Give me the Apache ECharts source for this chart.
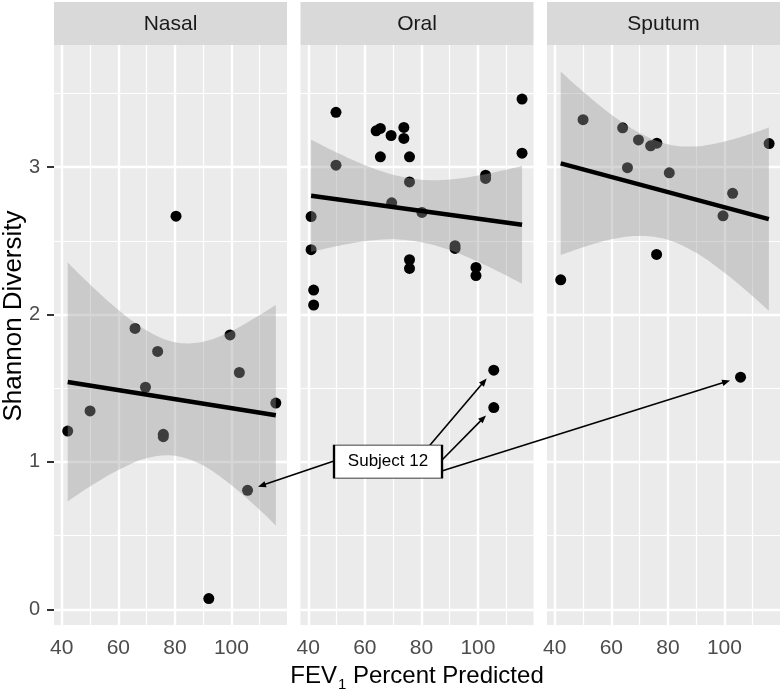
<!DOCTYPE html>
<html><head><meta charset="utf-8">
<script src="https://cdn.jsdelivr.net/npm/echarts@6/dist/echarts.min.js"></script>
<style>html,body{margin:0;padding:0;background:#fff}#c{width:781px;height:690px}</style>
</head><body><div id="c"></div><script>
// ---------------- data ----------------
const panels = ['Nasal', 'Oral', 'Sputum'];

const nasalPoints = [[42.1,1.21],[50.0,1.346],[65.9,1.906],[69.6,1.507],[73.9,1.75],[75.9,1.188],[75.9,1.172],
  [80.4,2.668],[92.0,0.073],[99.5,1.862],[102.8,1.607],[105.7,0.808],[115.7,1.40]];
const oralPoints = [[41.0,2.665],[41.0,2.44],[41.9,2.166],[41.9,2.065],[49.8,3.372],[49.8,3.014],[64.0,3.247],
  [65.5,3.263],[65.5,3.07],[69.3,3.215],[69.5,2.758],[73.8,3.27],[73.8,3.195],[75.8,3.07],[75.8,2.9],
  [75.8,2.372],[75.8,2.313],[80.2,2.693],[91.9,2.467],[91.9,2.449],[99.3,2.32],[99.3,2.265],[102.7,2.946],
  [102.7,2.924],[105.6,1.623],[105.6,1.369],[115.6,3.462],[115.6,3.095]];
const sputumPoints = [[42.1,2.236],[50.0,3.322],[64.0,3.267],[65.7,2.997],[69.6,3.185],[73.9,3.145],[76.1,3.163],
  [76.0,2.408],[80.5,2.962],[99.5,2.67],[102.9,2.823],[105.7,1.575],[115.8,3.16]];

const nasalFit = [[42.1,1.543],[115.7,1.317]];
const oralFit = [[41.0,2.806],[115.6,2.610]];
const sputumFit = [[42.1,3.026],[115.7,2.648]];

const nasalBandX = [42.1, 50, 60, 70, 80, 90, 100, 110, 115.7];
const nasalBandLow = [0.733, 0.834, 0.946, 1.026, 1.042, 0.976, 0.842, 0.675, 0.568];
const nasalBandHigh = [2.353, 2.204, 2.032, 1.892, 1.812, 1.816, 1.888, 1.997, 2.066];
const oralBandX = [41.0, 50, 60, 70, 80, 90, 100, 110, 115.6];
const oralBandLow = [2.425, 2.464, 2.498, 2.511, 2.491, 2.438, 2.359, 2.265, 2.209];
const oralBandHigh = [3.187, 3.100, 3.014, 2.949, 2.915, 2.916, 2.943, 2.983, 3.009];
const sputumBandX = [42.1, 50, 60, 70, 80, 90, 100, 110, 115.7];
const sputumBandLow = [2.404, 2.457, 2.511, 2.534, 2.507, 2.419, 2.284, 2.124, 2.026];
const sputumBandHigh = [3.648, 3.513, 3.357, 3.232, 3.155, 3.141, 3.174, 3.230, 3.270];

const xTicks = [40, 60, 80, 100];
const xMinor = [50, 70, 90, 110];
const yTicks = [0, 1, 2, 3];
const yMinor = [0.5, 1.5, 2.5, 3.5];

const annotationText = 'Subject 12';
const annotationPos = [68.2, 1.003];           // in Oral panel coordinates
const arrowStarts = [[49.1,1.007],[83.0,1.113],[87.2,1.012],[87.2,0.939]]; // Oral panel coordinates
const arrowTargets = [[0, 11], [1, 24], [1, 25], [2, 11]];             // [panel, point index]

// ---------------- layout ----------------
const FONT = "'Liberation Sans', Arial, Helvetica, sans-serif";
const gridLefts = [54, 300.5, 547];
const gridTop = 45, gridW = 233, gridH = 580;
const X_MIN = 37.25, X_MAX = 119.65, Y_MIN = -0.106, Y_MAX = 3.829;

const pointsByPanel = [nasalPoints, oralPoints, sputumPoints];
const fitByPanel = [nasalFit, oralFit, sputumFit];
const bandByPanel = [
  {x: nasalBandX, lo: nasalBandLow, hi: nasalBandHigh},
  {x: oralBandX, lo: oralBandLow, hi: oralBandHigh},
  {x: sputumBandX, lo: sputumBandLow, hi: sputumBandHigh}
];

function gridLines() {
  const d = [];
  xTicks.forEach(v => d.push({xAxis: v, lineStyle: {color: '#ffffff', width: 2.4, type: 'solid', opacity: 1}}));
  xMinor.forEach(v => d.push({xAxis: v, lineStyle: {color: '#ffffff', width: 1.2, type: 'solid', opacity: 1}}));
  yTicks.forEach(v => d.push({yAxis: v, lineStyle: {color: '#ffffff', width: 2.4, type: 'solid', opacity: 1}}));
  yMinor.forEach(v => d.push({yAxis: v, lineStyle: {color: '#ffffff', width: 1.2, type: 'solid', opacity: 1}}));
  return d;
}

// Catmull-Rom smoothing of pixel-space edge (rendering only)
function smoothPixels(pts) {
  const out = [pts[0]];
  const n = pts.length, steps = 10;
  for (let i = 0; i < n - 1; i++) {
    const p0 = pts[Math.max(i - 1, 0)], p1 = pts[i], p2 = pts[i + 1], p3 = pts[Math.min(i + 2, n - 1)];
    for (let s = 1; s <= steps; s++) {
      const t = s / steps, t2 = t * t, t3 = t2 * t;
      const f = (a, b, c, d) => 0.5 * ((2 * b) + (-a + c) * t + (2 * a - 5 * b + 4 * c - d) * t2 + (-a + 3 * b - 3 * c + d) * t3);
      out.push([f(p0[0], p1[0], p2[0], p3[0]), f(p0[1], p1[1], p2[1], p3[1])]);
    }
  }
  return out;
}

const series = [];
panels.forEach((p, i) => {
  series.push({
    type: 'scatter', xAxisIndex: i, yAxisIndex: i, z: 2, silent: true,
    data: pointsByPanel[i], symbol: 'circle', symbolSize: 11,
    itemStyle: {color: '#000000', opacity: 1},
    markLine: {silent: true, z: 1, symbol: ['none', 'none'], animation: false,
      label: {show: false}, emphasis: {disabled: true}, data: gridLines()}
  });
  const b = bandByPanel[i];
  series.push({
    type: 'custom', xAxisIndex: i, yAxisIndex: i, z: 3, silent: true,
    data: b.x.map((x, k) => [x, b.lo[k], b.hi[k]]),
    encode: {x: 0, y: [1, 2]},
    renderItem: function (params, api) {
      if (params.dataIndex !== 0) return null;
      const top = smoothPixels(b.x.map((x, k) => api.coord([x, b.hi[k]])));
      const bot = smoothPixels(b.x.map((x, k) => api.coord([x, b.lo[k]]))).reverse();
      return {type: 'polygon', shape: {points: top.concat(bot)}, style: {fill: 'rgba(153,153,153,0.4)'}};
    }
  });
  series.push({
    type: 'line', xAxisIndex: i, yAxisIndex: i, z: 4, silent: true,
    symbol: 'none', data: fitByPanel[i], lineStyle: {color: '#000000', width: 4.5}
  });
});
series.push({
  type: 'scatter', xAxisIndex: 1, yAxisIndex: 1, z: 20, silent: true,
  data: [annotationPos], symbol: 'rect', symbolSize: [108, 33],
  itemStyle: {color: '#ffffff', borderColor: '#000000', borderWidth: 1.3, opacity: 1},
  label: {show: true, position: 'inside', formatter: annotationText, fontSize: 17, color: '#000000', fontFamily: FONT}
});

const graphicEls = [];
panels.forEach((p, i) => {
  graphicEls.push({type: 'rect', shape: {x: gridLefts[i], y: 2, width: gridW, height: 43}, style: {fill: '#D9D9D9'}, z: 1, silent: true});
  graphicEls.push({type: 'text', x: gridLefts[i] + gridW / 2, y: 24, z: 2, silent: true,
    style: {text: p, fontSize: 21, fontFamily: FONT, fill: '#1A1A1A', align: 'center', verticalAlign: 'middle'}});
});
graphicEls.push({type: 'text', x: 14, y: 316, rotation: Math.PI / 2, z: 2, silent: true,
  style: {text: 'Shannon Diversity', fontSize: 26, fontFamily: FONT, fill: '#000000', align: 'center', verticalAlign: 'middle'}});

const option = {
  animation: false,
  textStyle: {fontFamily: FONT},
  grid: gridLefts.map(l => ({left: l, top: gridTop, width: gridW, height: gridH, show: true,
    backgroundColor: '#EBEBEB', borderWidth: 0, containLabel: false, outerBoundsMode: 'none'})),
  xAxis: panels.map((p, i) => ({
    type: 'value', gridIndex: i, min: X_MIN, max: X_MAX,
    axisLine: {show: false},
    axisTick: {show: true, customValues: xTicks, length: 6, lineStyle: {color: '#333333', width: 2}},
    axisLabel: {show: true, customValues: xTicks, margin: 13, fontSize: 21, color: '#4D4D4D', fontFamily: FONT},
    splitLine: {show: false}, minorSplitLine: {show: false},
    name: i === 1 ? '{a|FEV}{b|1}{a| Percent Predicted}' : '',
    nameLocation: 'middle', nameGap: 34,
    nameTextStyle: {fontSize: 24, color: '#000000', fontFamily: FONT,
      rich: {
        a: {fontSize: 24, lineHeight: 30, color: '#000000', fontFamily: FONT, verticalAlign: 'top'},
        b: {fontSize: 15, lineHeight: 15, padding: [13, 0, 0, 1], color: '#000000', fontFamily: FONT, verticalAlign: 'top'}
      }}
  })),
  yAxis: panels.map((p, i) => ({
    type: 'value', gridIndex: i, min: Y_MIN, max: Y_MAX,
    axisLine: {show: false},
    axisTick: {show: i === 0, customValues: yTicks, length: 7, lineStyle: {color: '#333333', width: 2}},
    axisLabel: {show: i === 0, customValues: yTicks, margin: 14, fontSize: 20, color: '#4D4D4D', fontFamily: FONT},
    splitLine: {show: false}, minorSplitLine: {show: false}
  })),
  graphic: {elements: graphicEls},
  series: series
};

const chart = echarts.init(document.getElementById('c'), null, {renderer: 'canvas'});
chart.setOption(option);

// arrows from the label to the "Subject 12" points, positioned through the axes
const arrowEls = [];
arrowTargets.forEach((t, k) => {
  const s = chart.convertToPixel({xAxisIndex: 1, yAxisIndex: 1}, arrowStarts[k]);
  const e = chart.convertToPixel({xAxisIndex: t[0], yAxisIndex: t[0]}, pointsByPanel[t[0]][t[1]]);
  const dx = e[0] - s[0], dy = e[1] - s[1], L = Math.hypot(dx, dy);
  const ux = dx / L, uy = dy / L;
  const tip = [e[0] - ux * 11, e[1] - uy * 11];
  const base = [tip[0] - ux * 8, tip[1] - uy * 8];
  const nx = -uy * 3.2, ny = ux * 3.2;
  arrowEls.push({type: 'line', silent: true, z: 15,
    shape: {x1: s[0], y1: s[1], x2: base[0] + ux * 2, y2: base[1] + uy * 2},
    style: {stroke: '#000000', lineWidth: 1.6}});
  arrowEls.push({type: 'polygon', silent: true, z: 15,
    shape: {points: [tip, [base[0] + nx, base[1] + ny], [base[0] - nx, base[1] - ny]]},
    style: {fill: '#000000'}});
});
chart.setOption({graphic: {elements: graphicEls.concat(arrowEls)}}, {replaceMerge: ['graphic']});
</script></body></html>
